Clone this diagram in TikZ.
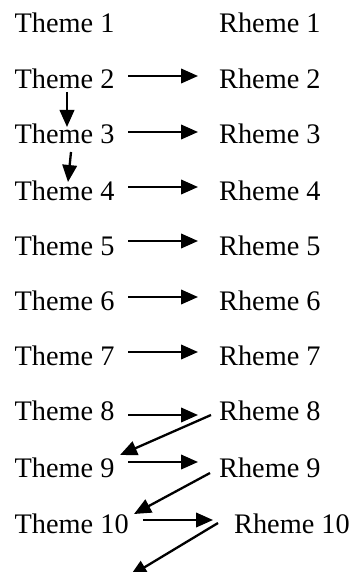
\documentclass[tikz,border=0pt]{standalone}
\usepackage{fontspec}
\setmainfont{Liberation Serif}
\usetikzlibrary{arrows.meta}
\begin{document}
\begin{tikzpicture}[x=1pt,y=-1pt,
  lbl/.style={inner sep=0pt, anchor=base west, font=\fontsize{28.3}{30}\selectfont},
  arr/.style={line width=2.3pt, -{Triangle[length=17pt,width=14.5pt]}}]
\useasboundingbox (0,0) rectangle (356,572);
% themes
\node[lbl] (t1)  at (14.5,33)    {Theme 1};
\node[lbl] (t2)  at (14.5,88.5)  {Theme 2};
\node[lbl] (t3)  at (14.5,144)   {Theme 3};
\node[lbl] (t4)  at (14.5,200)   {Theme 4};
\node[lbl] (t5)  at (14.5,255)   {Theme 5};
\node[lbl] (t6)  at (14.5,310)   {Theme 6};
\node[lbl] (t7)  at (14.5,365.5) {Theme 7};
\node[lbl] (t8)  at (14.5,420)   {Theme 8};
\node[lbl] (t9)  at (14.5,477.5) {Theme 9};
\node[lbl] (t10) at (14.5,533)   {Theme 10};
% rhemes
\node[lbl] (r1)  at (219,33)    {Rheme 1};
\node[lbl] (r2)  at (219,88.5)  {Rheme 2};
\node[lbl] (r3)  at (219,144)   {Rheme 3};
\node[lbl] (r4)  at (219,200)   {Rheme 4};
\node[lbl] (r5)  at (219,255)   {Rheme 5};
\node[lbl] (r6)  at (219,310)   {Rheme 6};
\node[lbl] (r7)  at (219,365.5) {Rheme 7};
\node[lbl] (r8)  at (219,420)   {Rheme 8};
\node[lbl] (r9)  at (219,477.5) {Rheme 9};
\node[lbl] (r10) at (234,533)   {Rheme 10};
% horizontal arrows
\draw[arr] ([xshift=113.5pt,yshift=12.5pt]t2.base west) -- ([xshift=-21pt,yshift=12.5pt]r2.base west);
\draw[arr] ([xshift=113.5pt,yshift=12pt]t3.base west) -- ([xshift=-21pt,yshift=12pt]r3.base west);
\draw[arr] ([xshift=113.5pt,yshift=13pt]t4.base west) -- ([xshift=-21pt,yshift=13pt]r4.base west);
\draw[arr] ([xshift=113.5pt,yshift=14pt]t5.base west) -- ([xshift=-21pt,yshift=14pt]r5.base west);
\draw[arr] ([xshift=113.5pt,yshift=13pt]t6.base west) -- ([xshift=-21pt,yshift=13pt]r6.base west);
\draw[arr] ([xshift=113.5pt,yshift=13.5pt]t7.base west) -- ([xshift=-21pt,yshift=13.5pt]r7.base west);
\draw[arr] ([xshift=113.5pt,yshift=5pt]t8.base west) -- ([xshift=-21pt,yshift=5pt]r8.base west);
\draw[arr] ([xshift=113.5pt,yshift=15.5pt]t9.base west) -- ([xshift=-21pt,yshift=15.5pt]r9.base west);
\draw[arr] ([xshift=128.5pt,yshift=13pt]t10.base west) -- ([xshift=-21pt,yshift=13pt]r10.base west);
% vertical arrows
\draw[arr] ([xshift=52.5pt,yshift=-3.5pt]t2.base west) -- ([xshift=52.5pt,yshift=17pt]t3.base west);
\draw[arr] ([xshift=56.5pt,yshift=-8pt]t3.base west) -- ([xshift=53.5pt,yshift=18pt]t4.base west);
% diagonal arrows
\draw[arr] ([xshift=-8pt,yshift=5pt]r8.base west) -- ([xshift=105.5pt,yshift=22.5pt]t9.base west);
\draw[arr] ([xshift=-9pt,yshift=4.5pt]r9.base west) -- ([xshift=119.5pt,yshift=19pt]t10.base west);
\coordinate (dn) at (130,576);
\draw[arr] ([xshift=-16pt,yshift=10pt]r10.base west) -- (dn);
\end{tikzpicture}
\end{document}
